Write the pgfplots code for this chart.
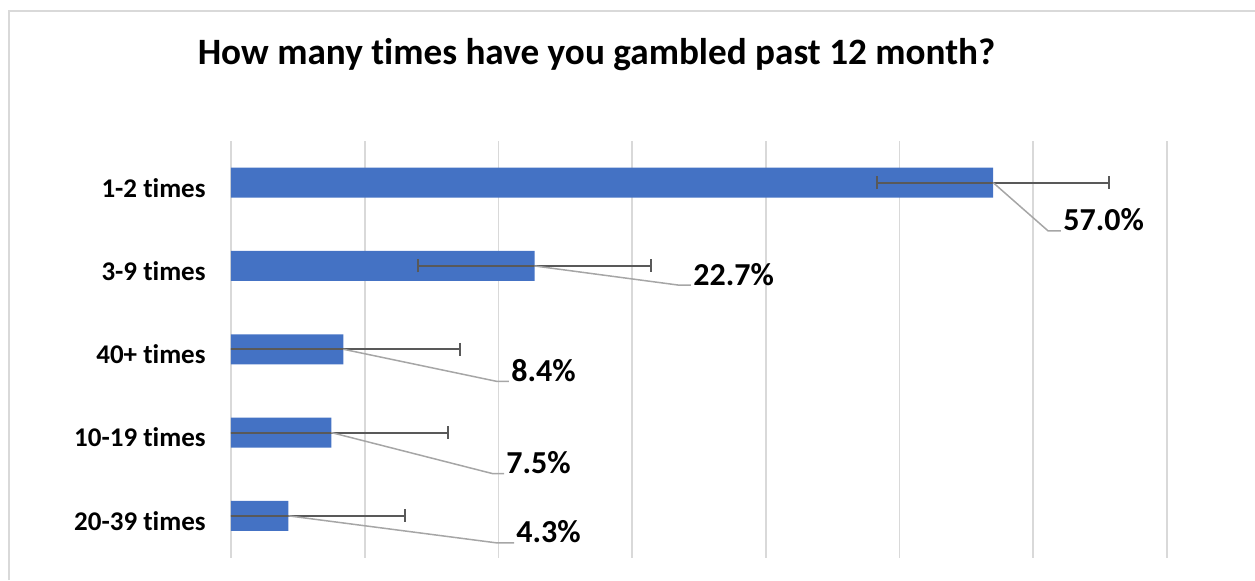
\documentclass[border=0pt]{standalone}
\usepackage{fontspec}
\setmainfont{Carlito}[Ligatures=NoCommon]
\usepackage{pgfplots}
\pgfplotsset{compat=1.18}

\definecolor{barblue}{HTML}{4472C4}
\definecolor{errgray}{HTML}{595959}
\definecolor{leadgray}{HTML}{A6A6A6}
\definecolor{gridgray}{HTML}{D9D9D9}

\begin{document}
\begin{tikzpicture}
% page frame: 1255x580 px at 2 px per pt
\useasboundingbox (0,0) rectangle (627.5pt,290pt);
\draw[gridgray, line width=1pt] (4.5pt,0) -- (4.5pt,284.5pt) -- (627.5pt,284.5pt);

\node[anchor=base, font=\fontsize{18.6}{22}\selectfont\bfseries] at (298.25pt,258pt)
  {How many times have you gambled past 12 month?};

\begin{axis}[
    at={(115.5pt,11.25pt)}, anchor=south west,
    scale only axis,
    width=468pt, height=208.25pt,
    xmin=0, xmax=70, ymin=-0.5, ymax=4.5,
    xtick={0,10,...,70}, xticklabels={},
    ytick={0,1,2,3,4},
    yticklabels={20-39 times,10-19 times,40+ times,3-9 times,1-2 times},
    yticklabel style={font=\fontsize{13.5}{16}\selectfont\bfseries, inner sep=0pt, xshift=-12.5pt, yshift=-2.5pt},
    major tick length=0pt,
    axis line style={draw=none},
    xmajorgrids,
    grid style={gridgray, line width=0.85pt},
]
\addplot[xbar, fill=barblue, draw=none, bar width=15pt,
    error bars/.cd, x dir=both, x fixed=8.7, error mark=|,
    error bar style={errgray, line width=1pt},
    error mark options={errgray, line width=1pt, mark size=3.25pt}]
  coordinates {(57.0,4) (22.7,3) (8.4,2) (7.5,1) (4.3,0)};

% leader lines from bar ends to the labels
\addplot[leadgray, line width=0.75pt, mark=none] coordinates {(57.0,4) (61.10,3.422) (62.07,3.422)};
\addplot[leadgray, line width=0.75pt, mark=none] coordinates {(22.7,3) (33.43,2.771) (34.40,2.771)};
\addplot[leadgray, line width=0.75pt, mark=none] coordinates {(8.4,2) (19.89,1.614) (20.79,1.614)};
\addplot[leadgray, line width=0.75pt, mark=none] coordinates {(7.5,1) (19.59,0.506) (20.42,0.506)};
\addplot[leadgray, line width=0.75pt, mark=none] coordinates {(4.3,0) (19.89,-0.325) (21.17,-0.325)};

% data labels
\addplot[draw=none, mark=none, point meta=explicit symbolic,
    nodes near coords,
    every node near coord/.append style={anchor=base west, inner sep=0pt, xshift=1pt,
      font=\fontsize{16}{19}\selectfont\bfseries, text=black}]
  coordinates {(62.07,3.422) [57.0\%] (34.40,2.771) [22.7\%] (20.79,1.614) [8.4\%]
               (20.42,0.506) [7.5\%] (21.17,-0.325) [4.3\%]};
\end{axis}
\end{tikzpicture}
\end{document}
